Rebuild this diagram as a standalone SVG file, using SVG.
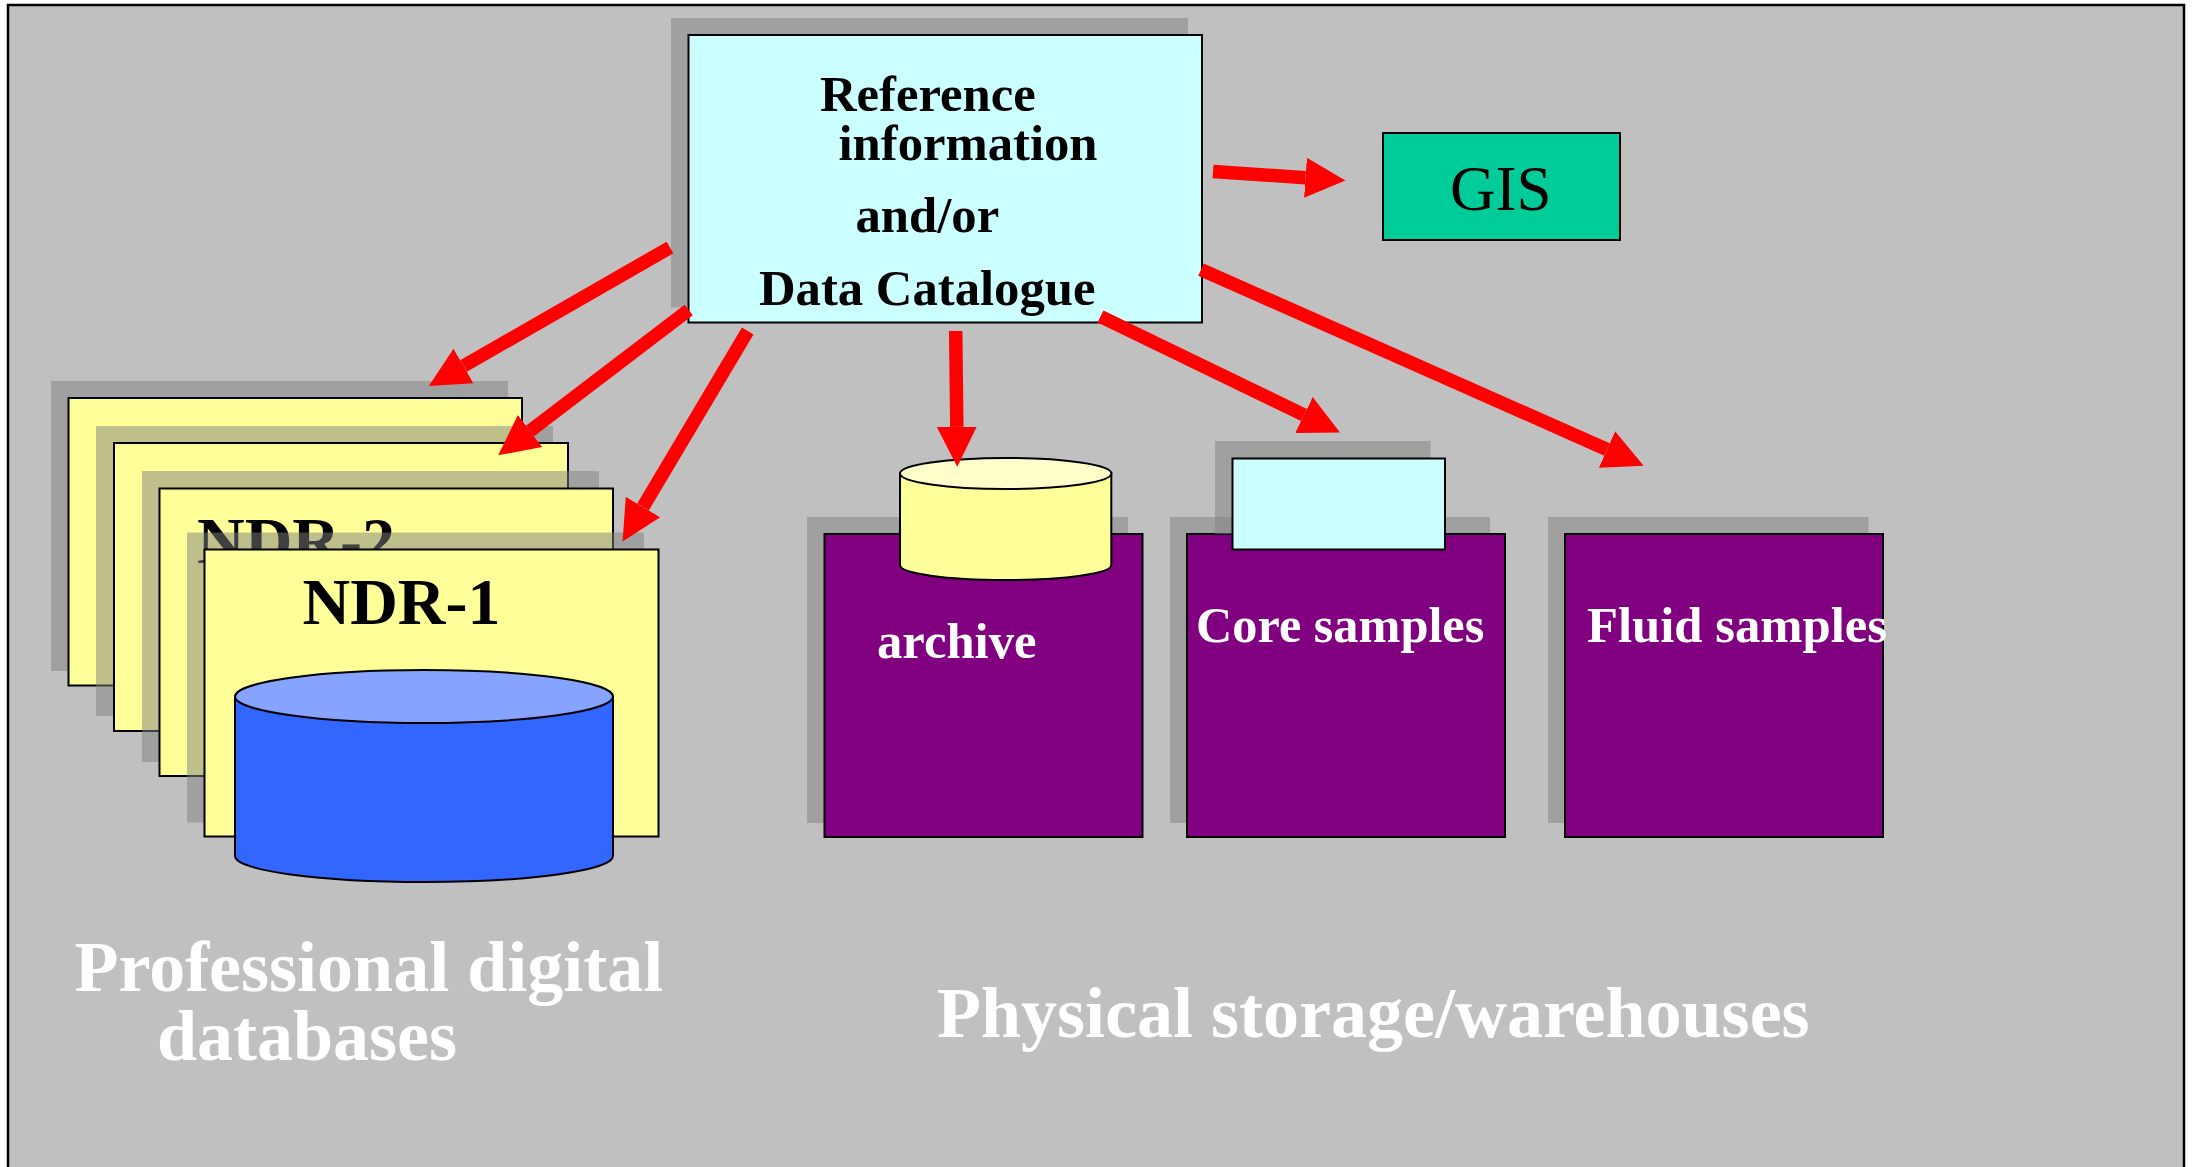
<svg xmlns="http://www.w3.org/2000/svg" width="2195" height="1167" viewBox="0 0 2195 1167">
<style>
text{font-family:"Liberation Serif","Times New Roman",serif}
.sh{fill:#808080;fill-opacity:.5}
.b{stroke:#000;stroke-width:2}
.y{fill:#ffff99}
.p{fill:#800080}
.c{fill:#ccffff}
.bk{fill:#000;font-weight:bold}
.wt{fill:#fff;font-weight:bold}
.s50{font-size:50.7px}
.s65{font-size:66px}
.s72{font-size:72px}
.ar{stroke:#f00;stroke-width:13.5;fill:none;marker-end:url(#head)}
</style>
<defs>
<marker id="head" markerUnits="userSpaceOnUse" markerWidth="42" markerHeight="42" viewBox="0 -21 42 42" refX="0" refY="0" orient="auto"><path d="M0,-20L40,0L0,20Z" fill="#f00"/></marker>
</defs>
<rect width="2195" height="1167" fill="#fff"/>
<rect id="frame" x="8" y="5" width="2176" height="1170" fill="#c0c0c0" stroke="#000" stroke-width="2.5"/>
<g id="ndr-3">
<rect class="sh" x="51" y="381" width="457" height="290"/>
<rect class="y b" x="68.5" y="398" width="453.5" height="287.5"/>
</g>
<g id="ndr-4">
<rect class="sh" x="96" y="426" width="457" height="290"/>
<rect class="y b" x="114" y="443" width="454" height="288"/>
</g>
<g id="ndr-2">
<rect class="sh" x="142" y="471" width="457" height="291"/>
<rect class="y b" x="159.5" y="488.5" width="453.5" height="287.5"/>
<text class="bk s65" x="197" y="563">NDR-2</text>
</g>
<g id="ndr-1">
<rect class="sh" x="187" y="532.5" width="457" height="290"/>
<rect class="y b" x="204.5" y="549.5" width="454" height="287"/>
<text class="bk s65" x="302.5" y="624">NDR-1</text>
</g>
<g id="db-cylinder">
<path class="b" fill="#3366ff" d="M235,696.5V856C235,870.5 320,882 424,882S613,870.5 613,856V696.5Z"/>
<ellipse class="b" cx="424" cy="696.5" rx="189" ry="26.5" fill="#85a3ff"/>
</g>
<g id="catalogue">
<rect class="sh" x="671" y="18" width="517" height="289.5"/>
<rect class="c b" x="688.5" y="35" width="513.5" height="287.5"/>
<text class="bk s50" x="820" y="111">Reference</text>
<text class="bk s50" x="838.5" y="159.5">information</text>
<text class="bk s50" x="855.5" y="232">and/or</text>
<text class="bk s50" x="759" y="304.5">Data Catalogue</text>
</g>
<g id="gis">
<rect class="b" x="1383" y="133" width="237" height="107" fill="#00cc99"/>
<text x="1450" y="210" font-size="63">GIS</text>
</g>
<g id="archive">
<rect class="sh" x="807" y="517" width="321" height="306"/>
<rect class="p b" x="824.5" y="534" width="318" height="303"/>
<path class="y b" d="M900,473V565C900,573.5 947,580 1005.7,580S1111.3,573.5 1111.3,565V473Z"/>
<ellipse class="b" cx="1005.7" cy="473.5" rx="105.7" ry="15.5" fill="#ffffcc"/>
<text class="wt s50" x="877" y="658">archive</text>
</g>
<g id="core">
<rect class="sh" x="1170" y="517" width="320" height="306"/>
<rect class="p b" x="1187" y="534" width="318" height="303"/>
<rect class="sh" x="1215" y="441" width="215.5" height="93"/>
<rect class="c b" x="1232.5" y="458.5" width="212.5" height="91"/>
<text class="wt" font-size="50.3" x="1196" y="642">Core samples</text>
</g>
<g id="fluid">
<rect class="sh" x="1548" y="517" width="320.5" height="306"/>
<rect class="p b" x="1565" y="534" width="318" height="303"/>
<text class="wt s50" x="1587" y="642">Fluid samples</text>
</g>
<g id="captions">
<text class="wt s72" x="74.5" y="991">Professional digital</text>
<text class="wt s72" x="157" y="1059.5">databases</text>
<text class="wt s72" x="937" y="1037">Physical storage/warehouses</text>
</g>
<g id="connectors">
<line class="ar" x1="1213" y1="171.4" x2="1305.5" y2="177.8"/>
<line class="ar" x1="670" y1="247.5" x2="463.5" y2="366"/>
<line class="ar" x1="688.7" y1="310" x2="530" y2="431"/>
<line class="ar" x1="747.7" y1="331" x2="643" y2="507"/>
<line class="ar" x1="955.7" y1="331" x2="956.8" y2="426.8"/>
<line class="ar" x1="1100.5" y1="316.5" x2="1304" y2="415"/>
<line class="ar" x1="1201" y1="269.6" x2="1607" y2="449.5"/>
</g>
</svg>
